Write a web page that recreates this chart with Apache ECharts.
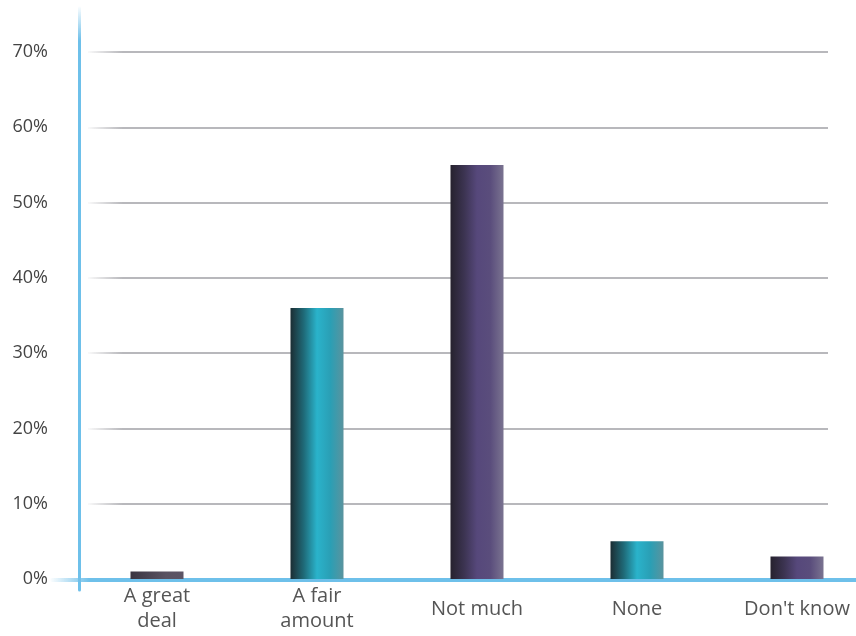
<!DOCTYPE html>
<html>
<head>
<meta charset="utf-8">
<script src="https://cdn.jsdelivr.net/npm/echarts@6/dist/echarts.min.js"></script>
<style>
  html, body { margin: 0; padding: 0; background: #fff; }
  #chart { width: 856px; height: 636px; }
</style>
</head>
<body>
<div id="chart"></div>
<script>
// Survey responses, share of respondents (%)
const categories = ['A great\ndeal', 'A fair\namount', 'Not much', 'None', "Don't know"];
const values = [1, 36, 55, 5, 3];
const yTicks = [0, 10, 20, 30, 40, 50, 60, 70];

// Alternating bar palettes: dark-to-bright-to-muted horizontal sheen
function sheen(stops) {
  return new echarts.graphic.LinearGradient(0, 0, 1, 0, stops.map((c, i) => ({ offset: i / (stops.length - 1), color: c })));
}
const purple = sheen(['#26222e', '#3b3350', '#56487b', '#5a4d7c', '#7a7390']);
const teal = sheen(['#1b2d33', '#1f6a78', '#2ab3cb', '#2a9fb5', '#5a939e']);
const smallPurple = sheen(['#3a3540', '#4a4452', '#5a5362', '#5c5465']);
const barColors = [smallPurple, teal, purple, teal, purple];

const chart = echarts.init(document.getElementById('chart'));
const FONT = '"Open Sans", "Noto Sans", sans-serif';

chart.setOption({
  animation: false,
  grid: [
    // bars (plot area runs past the right edge of the canvas)
    { left: 77, width: 800, top: 52, bottom: 57, outerBoundsMode: 'none' },
    // grid lines
    { left: 88, right: 28, top: 52, bottom: 57, outerBoundsMode: 'none' },
    // horizontal baseline
    { left: 52, right: 0, top: 52, bottom: 56, outerBoundsMode: 'none' },
    // vertical axis rule
    { left: 79, width: 10, top: 8, bottom: 46, outerBoundsMode: 'none' }
  ],
  xAxis: [
    {
      gridIndex: 0, type: 'category', data: categories,
      axisLine: { show: false }, axisTick: { show: false },
      axisLabel: {
        color: '#555', fontFamily: FONT, fontSize: 20, lineHeight: 25,
        verticalAlign: 'middle', margin: 30
      }
    },
    { gridIndex: 1, type: 'value', show: false },
    {
      gridIndex: 2, type: 'value', position: 'bottom',
      axisLine: {
        show: true,
        lineStyle: {
          width: 4,
          color: new echarts.graphic.LinearGradient(0, 0, 1, 0, [
            { offset: 0, color: 'rgba(110,190,232,0)' },
            { offset: 0.05, color: '#6ec0ea' },
            { offset: 1, color: '#6ec0ea' }
          ])
        }
      },
      axisTick: { show: false }, axisLabel: { show: false }, splitLine: { show: false }
    },
    { gridIndex: 3, type: 'value', show: false }
  ],
  yAxis: [
    {
      gridIndex: 0, type: 'value', min: 0, max: 70, interval: 10,
      axisLine: { show: false }, axisTick: { show: false }, splitLine: { show: false },
      axisLabel: {
        formatter: v => yTicks.includes(v) ? v + '%' : '',
        color: '#444', fontFamily: FONT, fontSize: 18, margin: 29,
        padding: [4, 0, 0, 0]
      }
    },
    {
      gridIndex: 1, type: 'value', min: 0, max: 70, interval: 10,
      axisLine: { show: false }, axisTick: { show: false }, axisLabel: { show: false },
      splitLine: {
        show: true,
        lineStyle: {
          width: 2,
          color: new echarts.graphic.LinearGradient(0, 0, 1, 0, [
            { offset: 0, color: 'rgba(180,180,184,0)' },
            { offset: 0.05, color: '#b8b8bc' },
            { offset: 1, color: '#b8b8bc' }
          ])
        }
      }
    },
    { gridIndex: 2, type: 'value', show: false },
    {
      gridIndex: 3, type: 'value', position: 'left',
      axisLine: {
        show: true,
        lineStyle: {
          width: 3,
          color: new echarts.graphic.LinearGradient(0, 0, 0, 1, [
            { offset: 0, color: 'rgba(110,190,232,0)' },
            { offset: 0.06, color: '#6ec0ea' },
            { offset: 1, color: '#6ec0ea' }
          ])
        }
      },
      axisTick: { show: false }, axisLabel: { show: false }, splitLine: { show: false }
    }
  ],
  series: [{
    type: 'bar',
    xAxisIndex: 0, yAxisIndex: 0,
    barWidth: 53,
    z: 5,
    data: values.map((v, i) => ({ value: v, itemStyle: { color: barColors[i] } }))
  }]
});
</script>
</body>
</html>
